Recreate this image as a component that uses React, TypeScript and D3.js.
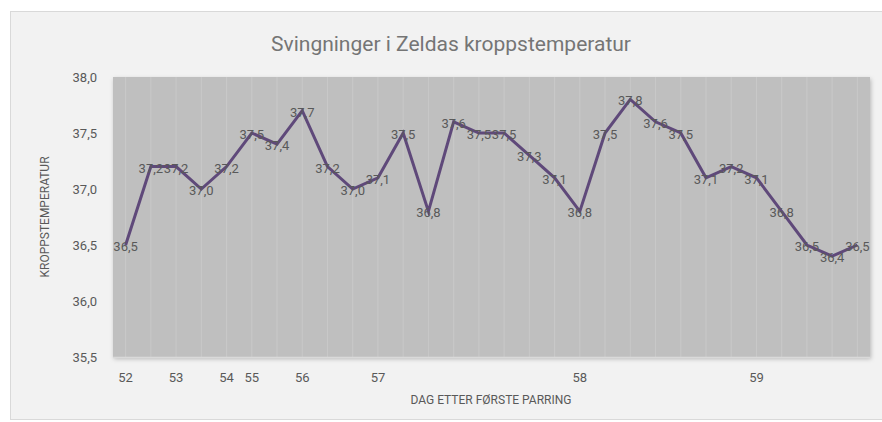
import React, { useRef, useEffect } from "react";
import * as d3 from "d3";

const dayLabels = ["52", "", "53", "", "54", "55", "", "56", "", "", "57", "", "", "", "", "", "", "", "58", "", "", "", "", "", "", "59", "", "", "", ""];
const temps = [36.5, 37.2, 37.2, 37.0, 37.2, 37.5, 37.4, 37.7, 37.2, 37.0, 37.1, 37.5, 36.8, 37.6, 37.5, 37.5, 37.3, 37.1, 36.8, 37.5, 37.8, 37.6, 37.5, 37.1, 37.2, 37.1, 36.8, 36.5, 36.4, 36.5];
const yTicks = [35.5, 36.0, 36.5, 37.0, 37.5, 38.0];

const fmt = (v: number) => v.toFixed(1).replace(".", ",");

const App = () => {
  const svgRef = useRef<SVGSVGElement>(null);

  useEffect(() => {
    const svg = d3.select(svgRef.current);
    svg.selectAll("*").remove();

    const width = 882;
    const height = 422;
    const left = 113;
    const right = 870;
    const top = 77;
    const bottom = 357;
    const font = "'Liberation Sans Narrow', 'Roboto', sans-serif";

    const data = temps.map((t, i) => ({ key: String(i), label: dayLabels[i], t }));

    const x = d3.scaleBand<string>().domain(data.map((d) => d.key)).range([left, right]);
    const cx = (k: string) => (x(k) as number) + x.bandwidth() / 2;
    const y = d3.scaleLinear().domain([35.5, 38.0]).range([bottom, top]);

    const defs = svg.append("defs");
    const f = defs.append("filter").attr("id", "shadow").attr("x", "-5%").attr("y", "-5%").attr("width", "110%").attr("height", "115%");
    f.append("feDropShadow").attr("dx", 1).attr("dy", 2).attr("stdDeviation", 2).attr("flood-color", "#000").attr("flood-opacity", 0.25);

    // chart background
    svg.append("rect").attr("x", 0).attr("y", 0).attr("width", width).attr("height", height).attr("fill", "#fff");
    svg.append("rect").attr("x", 10.5).attr("y", 11.5).attr("width", 880).attr("height", 408)
      .attr("fill", "#f2f2f2").attr("stroke", "#d9d9d9");

    // plot area
    svg.append("rect").attr("x", left).attr("y", top).attr("width", right - left).attr("height", bottom - top)
      .attr("fill", "#bfbfbf").attr("filter", "url(#shadow)");

    // vertical gridlines
    svg.append("g").selectAll("line").data(data).join("line")
      .attr("x1", (d) => cx(d.key)).attr("x2", (d) => cx(d.key))
      .attr("y1", top).attr("y2", bottom)
      .attr("stroke", "#c9c9c9").attr("stroke-width", 1);

    svg.append("line").attr("x1", left).attr("x2", right).attr("y1", bottom + 0.5).attr("y2", bottom + 0.5)
      .attr("stroke", "#d9d9d9").attr("stroke-width", 1.5);

    // y axis
    const yAxis = svg.append("g").attr("transform", `translate(${left - 13},0)`)
      .call(d3.axisLeft(y).tickValues(yTicks).tickFormat((d) => fmt(d as number)).tickSize(0));
    yAxis.select(".domain").remove();
    yAxis.selectAll("text").attr("font-family", font).attr("font-size", 13).attr("fill", "#595959");

    // x axis
    const xAxis = svg.append("g").attr("transform", `translate(0,${bottom + 13})`)
      .call(d3.axisBottom(x).tickFormat((k) => dayLabels[+k]).tickSize(0));
    xAxis.select(".domain").remove();
    xAxis.selectAll("text").attr("font-family", font).attr("font-size", 13).attr("fill", "#595959");

    // line
    const line = d3.line<{ key: string; t: number }>().x((d) => cx(d.key)).y((d) => y(d.t));
    svg.append("path").datum(data).attr("d", line).attr("fill", "none")
      .attr("stroke", "#5f497a").attr("stroke-width", 3).attr("stroke-linejoin", "miter");

    // data labels
    svg.append("g").selectAll("text").data(data).join("text")
      .attr("x", (d) => cx(d.key)).attr("y", (d) => y(d.t) + 6)
      .attr("text-anchor", "middle").attr("font-family", font).attr("font-size", 13)
      .attr("fill", "#595959").text((d) => fmt(d.t));

    // titles
    svg.append("text").attr("x", 451).attr("y", 51).attr("text-anchor", "middle")
      .attr("font-family", font).attr("font-size", 21).attr("fill", "#757575")
      .text("Svingninger i Zeldas kroppstemperatur");

    svg.append("text").attr("x", 491).attr("y", 404).attr("text-anchor", "middle")
      .attr("font-family", font).attr("font-size", 12).attr("fill", "#595959")
      .text("DAG ETTER FØRSTE PARRING");

    svg.append("text").attr("transform", `translate(49,${(top + bottom) / 2}) rotate(-90)`)
      .attr("text-anchor", "middle").attr("font-family", font).attr("font-size", 12).attr("fill", "#595959")
      .text("KROPPSTEMPERATUR");
  }, []);

  return <svg ref={svgRef} width={882} height={422} style={{ position: "absolute", left: 0, top: 0 }} />;
};

export default App;
